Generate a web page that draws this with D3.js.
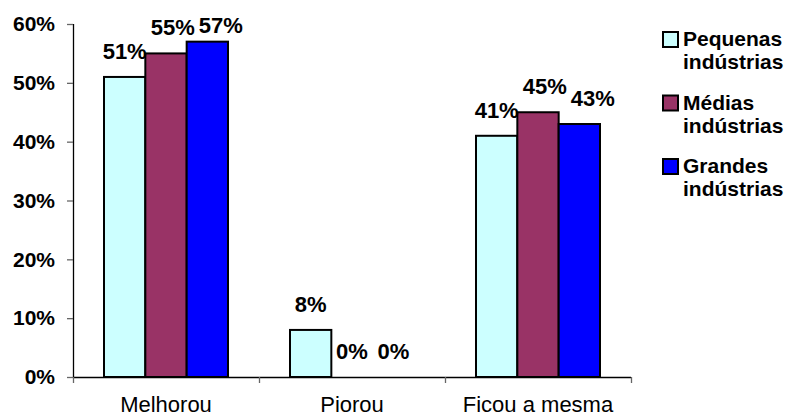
<!DOCTYPE html>
<html><head><meta charset="utf-8">
<script src="https://cdn.jsdelivr.net/npm/d3@7"></script>
<style>body{margin:0;background:#fff}svg{display:block}text{font-family:"Liberation Sans",Arial,sans-serif}</style>
</head><body>
<script>
const categories = ["Melhorou", "Piorou", "Ficou a mesma"];
const seriesNames = ["Pequenas indústrias", "Médias indústrias", "Grandes indústrias"];
const pequenas = [0.51, 0.08, 0.41];
const medias = [0.55, 0.00, 0.45];
const grandes = [0.57, 0.00, 0.43];
const colors = ["#CCFFFF", "#993366", "#0000FF"];
const yTicks = [0, 0.1, 0.2, 0.3, 0.4, 0.5, 0.6];

const values = [pequenas, medias, grandes];
const W = 791, H = 418;
const svg = d3.select("body").append("svg").attr("width", W).attr("height", H);

const x = d3.scaleBand().domain(categories).range([73, 631]).paddingInner(0).paddingOuter(0);
const xs = d3.scaleBand().domain(d3.range(seriesNames.length)).range([0, x.bandwidth()]).paddingInner(0).paddingOuter(0.75);
const y = d3.scaleLinear().domain([0, 0.6]).range([377, 24]);
const pct = d3.format(".0%");

// Y axis
const yAxis = svg.append("g").attr("transform", "translate(73,0)")
  .call(d3.axisLeft(y).tickValues(yTicks).tickFormat(pct).tickSize(6).tickPadding(12));
yAxis.select(".domain").attr("stroke", "#000").attr("stroke-width", 1.3).attr("d", "M0.5," + y(0.6) + "V" + y(0));
yAxis.selectAll(".tick line").attr("stroke", "#666").attr("stroke-width", 1.3);
yAxis.selectAll(".tick text").attr("font-size", 21).attr("font-weight", "bold").attr("fill", "#000").attr("font-family", '"Liberation Sans",Arial,sans-serif');

// X axis
const boundaries = [73].concat(categories.map(c => x(c) + x.bandwidth()));
const xg = svg.append("g");
xg.append("line").attr("x1", 73).attr("x2", 631).attr("y1", y(0) + 0.5).attr("y2", y(0) + 0.5).attr("stroke", "#000").attr("stroke-width", 1.3);
xg.selectAll("line.tk").data(boundaries).join("line").attr("class", "tk")
  .attr("x1", d => d + 0.5).attr("x2", d => d + 0.5).attr("y1", y(0)).attr("y2", y(0) + 6)
  .attr("stroke", "#666").attr("stroke-width", 1.3);
xg.selectAll("text").data(categories).join("text")
  .attr("x", d => x(d) + x.bandwidth() / 2).attr("y", 412)
  .attr("text-anchor", "middle").attr("font-size", 22).attr("fill", "#000").text(d => d);

// Bars
const data = [];
categories.forEach((c, ci) => seriesNames.forEach((s, si) => data.push({c, si, v: values[si][ci]})));
svg.append("g").selectAll("rect").data(data).join("rect")
  .attr("x", d => x(d.c) + xs(d.si))
  .attr("y", d => y(d.v))
  .attr("width", xs.bandwidth())
  .attr("height", d => y(0) - y(d.v))
  .attr("fill", d => colors[d.si])
  .attr("stroke", "#000").attr("stroke-width", 2)
  .attr("display", d => d.v > 0 ? null : "none");

// Labels (nudged right if they would collide with the previous one)
const labels = svg.append("g").selectAll("text").data(data).join("text")
  .attr("x", d => x(d.c) + xs(d.si) + xs.bandwidth() / 2)
  .attr("y", d => Math.max(33, y(d.v) - 18))
  .attr("text-anchor", "middle").attr("font-size", 22).attr("font-weight", "bold").attr("fill", "#000")
  .text(d => pct(d.v));
let prevRight = -Infinity, prevC = null;
labels.each(function(d) {
  const w = this.getComputedTextLength();
  let cx = +this.getAttribute("x");
  if (d.c === prevC && cx - w / 2 < prevRight + 4) cx = prevRight + 4 + w / 2;
  this.setAttribute("x", cx);
  prevRight = cx + w / 2; prevC = d.c;
});

// Legend
const lg = svg.append("g");
seriesNames.forEach((s, i) => {
  const base = 46 + i * 63.5;
  lg.append("rect").attr("x", 663).attr("y", base - 14).attr("width", 15).attr("height", 15)
    .attr("fill", colors[i]).attr("stroke", "#000").attr("stroke-width", 2);
  s.split(" ").forEach((p, j) => {
    lg.append("text").attr("x", 683).attr("y", base + j * 23).attr("font-size", 21).attr("font-weight", "bold").attr("fill", "#000").text(p);
  });
});
</script>
</body></html>
